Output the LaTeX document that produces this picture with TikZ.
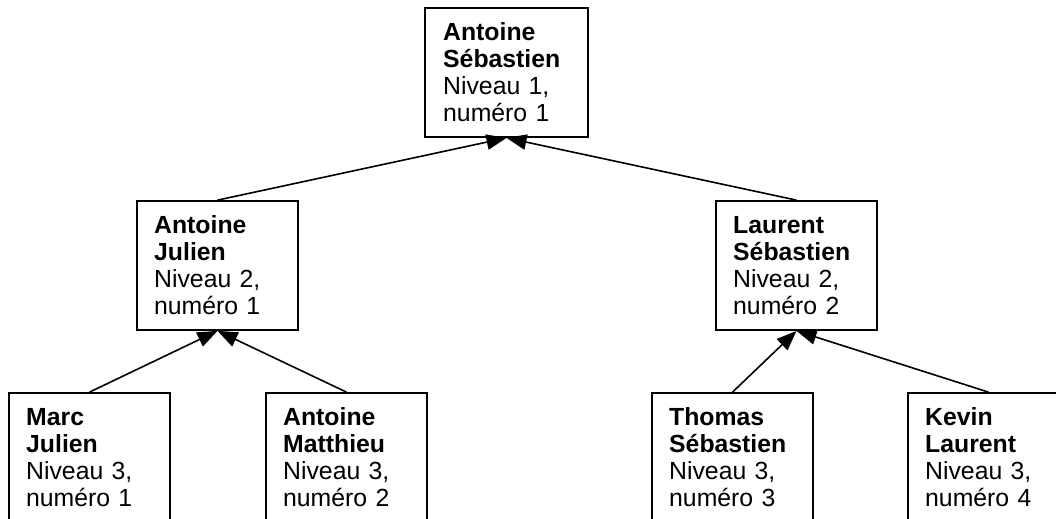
\documentclass[tikz,border=0pt]{standalone}
\usepackage{fontspec}
\setmainfont{Liberation Sans}
\usetikzlibrary{arrows.meta}
\begin{document}
\begin{tikzpicture}[x=0.75pt, y=-0.75pt, line width=1.2pt,
    person/.style = {rectangle, draw = black, line width=1.3pt, text width=95pt, inner xsep=13pt,
                     minimum width=120.75pt, minimum height=96.75pt, align=left,
                     font=\fontsize{18.6pt}{20.25pt}\selectfont},
    link/.style = {-{Triangle[length=15pt, width=11.5pt]}}]
    \useasboundingbox (0,0) rectangle (1056,518);
    \clip (0,0) rectangle (1056,518);
    \node [person, minimum width=122.25pt] (A) at (506.5,72.5) {\textbf{Antoine}\\\textbf{Sébastien}\\Niveau 1,\\numéro 1};
    \node [person] (AJ) at (217.5,265.5) {\textbf{Antoine}\\\textbf{Julien}\\Niveau 2,\\numéro 1};
    \node [person] (LS) at (796.5,265.5) {\textbf{Laurent}\\\textbf{Sébastien}\\Niveau 2,\\numéro 2};
    \node [person] (MJ) at (89.5,457.5) {\textbf{Marc}\\\textbf{Julien}\\Niveau 3,\\numéro 1};
    \node [person] (AM) at (346.5,457.5) {\textbf{Antoine}\\\textbf{Matthieu}\\Niveau 3,\\numéro 2};
    \node [person] (TS) at (732.5,457.5) {\textbf{Thomas}\\\textbf{Sébastien}\\Niveau 3,\\numéro 3};
    \node [person] (KL) at (988.5,457.5) {\textbf{Kevin}\\\textbf{Laurent}\\Niveau 3,\\numéro 4};
    \draw [link] (AJ.north) -- (A.south);
    \draw [link] (LS.north) -- (A.south);
    \draw [link] (MJ.north) -- (AJ.south);
    \draw [link] (AM.north) -- (AJ.south);
    \draw [link] (TS.north) -- (LS.south);
    \draw [link] (KL.north) -- (LS.south);
\end{tikzpicture}
\end{document}
